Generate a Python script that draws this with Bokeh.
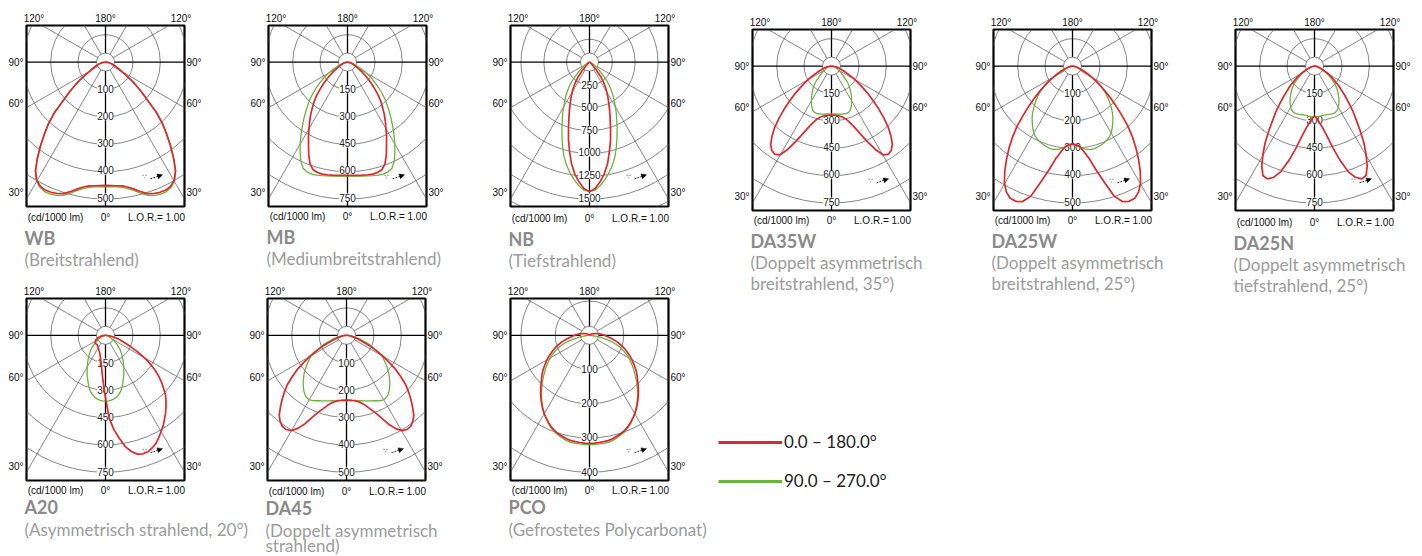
import math
from bokeh.plotting import figure
from bokeh.models import Range1d, LinearAxis, FixedTicker, Arrow, NormalHead
from bokeh.layouts import row, column
from bokeh.embed import file_html
from bokeh.resources import INLINE
from bokeh.core.properties import value

RED = "#e2262c"
GREEN = "#6ab43e"
GRID = "#555555"
NUM_FONT = "Liberation Sans"
TITLE_FONT = "Lato"

# ---------------- data (cd/1000 lm), angle from nadir in degrees ----------------
ANG = [i * 2.5 for i in range(37)]          # 0 .. 90

WB_C0 = [455, 456, 458, 461, 468, 480, 495, 509, 516, 520, 521, 516, 502, 475, 433, 390, 347, 308,
         263, 208, 172, 140, 112, 85, 66, 55, 46, 38, 31, 26, 21, 16, 12, 8, 5, 2, 0]
WB_C90 = [460, 461, 462, 466, 474, 486, 502, 516, 523, 527, 527, 520, 505, 477, 435, 391, 348, 308,
          263, 208, 172, 140, 112, 85, 66, 55, 46, 38, 31, 26, 21, 16, 12, 8, 5, 2, 0]
WB_RINGS = [100, 200, 300, 400, 500]

MB_C0 = [627, 628, 629, 631, 633, 635, 633, 625, 600, 555, 505, 463, 420, 385, 350, 315, 283, 250,
         212, 180, 150, 124, 100, 80, 63, 52, 42, 35, 28, 22, 18, 13, 10, 7, 4, 2, 0]
MB_C90 = [630, 631, 633, 636, 640, 644, 648, 650, 647, 636, 605, 562, 518, 473, 430, 391, 355, 320,
          290, 257, 225, 195, 166, 140, 115, 90, 70, 56, 45, 36, 28, 21, 15, 10, 6, 3, 0]
MB_RINGS = [150, 300, 450, 600, 750]

NB_C0 = [1434, 1400, 1330, 1245, 1140, 1010, 890, 765, 660, 575, 500, 435, 375, 320, 260, 200, 125,
         62, 38, 26, 18, 13, 9, 6, 4, 3, 2, 1, 0, 0, 0, 0, 0, 0, 0, 0, 0]
NB_C90 = [1434, 1418, 1370, 1310, 1240, 1165, 1080, 980, 880, 790, 705, 635, 565, 505, 448, 390, 335,
          280, 215, 165, 130, 102, 80, 60, 45, 34, 25, 18, 12, 8, 6, 4, 3, 2, 1, 0, 0]
NB_RINGS = [250, 500, 750, 1000, 1250, 1500]

DA35W_C0 = [271, 271, 273, 276, 282, 290, 303, 325, 355, 400, 458, 520, 568, 578, 570, 547, 507, 460,
            405, 350, 298, 255, 210, 175, 145, 115, 92, 75, 62, 50, 42, 33, 25, 17, 10, 4, 0]
DA35W_C90 = [265, 265, 266, 268, 270, 272, 273, 274, 273, 266, 253, 237, 220, 203, 187, 170, 155, 138,
             120, 98, 85, 72, 62, 53, 45, 39, 34, 29, 24, 20, 16, 12, 9, 6, 4, 2, 0]
DA35W_RINGS = [150, 300, 450, 600, 750]

DA25W_C0 = [288, 290, 298, 318, 345, 390, 440, 502, 532, 540, 538, 523, 497, 460, 420, 380, 340, 297,
            252, 212, 178, 148, 122, 100, 80, 63, 50, 38, 29, 23, 18, 14, 10, 7, 4, 2, 0]
DA25W_C90 = [288, 294, 300, 307, 312, 315, 315, 312, 309, 305, 300, 293, 283, 270, 256, 242, 227, 210,
             193, 177, 160, 140, 120, 98, 78, 55, 35, 26, 20, 16, 12, 9, 6, 4, 2, 1, 0]
DA25W_RINGS = [100, 200, 300, 400, 500]

DA25N_C0 = [276, 290, 315, 345, 392, 462, 540, 612, 655, 676, 668, 625, 565, 503, 435, 375, 328, 280,
            240, 205, 178, 150, 125, 108, 90, 72, 56, 45, 35, 28, 22, 16, 12, 8, 5, 2, 0]
DA25N_C90 = [280, 280, 279, 278, 277, 277, 278, 280, 282, 282, 279, 272, 262, 248, 233, 218, 202, 187,
             172, 155, 138, 120, 103, 87, 72, 57, 45, 36, 28, 22, 16, 12, 9, 6, 3, 1, 0]
DA25N_RINGS = [150, 300, 450, 600, 750]

A20_ANG = [-90 + i * 2.5 for i in range(73)]   # -90 .. 90 (asymmetric)
A20_C0 = [0, 4, 8, 14, 20, 28, 35, 42, 48, 53, 58, 61, 64, 66, 68, 69, 70, 70, 70, 69, 70, 72, 74, 77,
          80, 84, 88, 92, 97, 104, 114, 128, 145, 170, 210, 265,
          344,
          455, 520, 570, 622, 655, 677, 684, 681, 670, 655, 633, 610, 588, 563, 540, 515, 490, 465, 430,
          400, 365, 328, 288, 245, 200, 160, 128, 100, 82, 65, 48, 32, 22, 12, 5, 0]
A20_C90 = [362, 361, 358, 353, 345, 334, 320, 300, 278, 257, 238, 217, 200, 183, 167, 152, 139, 126,
           113, 100, 88, 77, 66, 54, 42, 35, 28, 23, 18, 14, 10, 7, 5, 3, 2, 1, 0]
A20_RINGS = [150, 300, 450, 600, 750]

DA45_C0 = [238, 238, 240, 242, 247, 255, 266, 282, 300, 325, 358, 385, 404, 410, 408, 398, 382, 357,
           332, 307, 282, 250, 220, 185, 154, 122, 98, 73, 55, 42, 30, 22, 15, 9, 5, 2, 0]
DA45_C90 = [240, 240, 241, 242, 244, 246, 249, 252, 256, 260, 265, 270, 273, 271, 265, 256, 245, 234,
            222, 210, 197, 185, 172, 160, 148, 128, 108, 92, 75, 60, 48, 37, 28, 20, 12, 5, 0]
DA45_RINGS = [100, 200, 300, 400, 500]

PCO_ANG = ANG + [95, 100, 105, 110, 120, 135, 150, 180]
PCO_C0 = [317, 317, 316, 315, 314, 311, 307, 303, 298, 291, 283, 274, 265, 255, 244, 233, 222, 211,
          200, 190, 181, 172, 162, 152, 143, 134, 124, 115, 106, 97, 88, 79, 70, 62, 55, 48, 43,
          35, 27, 19, 14, 8, 3, 1, 0]
PCO_C90 = [321, 321, 320, 320, 319, 316, 311, 306, 301, 294, 285, 275, 264, 253, 242, 230, 218, 206,
           195, 183, 172, 162, 152, 142, 133, 122, 111, 100, 88, 75, 60, 44, 28, 16, 8, 3, 0]
PCO_RINGS = [100, 200, 300, 400]

NAMES = ["WB", "MB", "NB", "DA35W", "DA25W", "DA25N", "A20", "DA45", "PCO"]
SUBTITLES = [["(Breitstrahlend)"], ["(Mediumbreitstrahlend)"], ["(Tiefstrahlend)"],
             ["(Doppelt asymmetrisch", "breitstrahlend, 35°)"],
             ["(Doppelt asymmetrisch", "breitstrahlend, 25°)"],
             ["(Doppelt asymmetrisch", "tiefstrahlend, 25°)"],
             ["(Asymmetrisch strahlend, 20°)"],
             ["(Doppelt asymmetrisch", "strahlend)"],
             ["(Gefrostetes Polycarbonat)"]]
TOP_LABELS = ["120°", "180°", "120°"]
SIDE_LABELS = ["90°", "60°", "30°"]
BOTTOM_LABELS = ["(cd/1000 lm)", "0°", "L.O.R.= 1.00"]
LEGEND_LABELS = ["0.0 – 180.0°", "90.0 – 270.0°"]

# ---------------- layout constants (page pixels) ----------------
RING_PX = 137.0          # radius of outermost labelled ring
FW, FH = 158, 183        # frame size
HALF_W, ABOVE = 79, 37   # centre position in frame
BELOW = FH - ABOVE
TOP_TICKS_PX = [-71.5, 0, 75.5]
SIDE_TICKS_PX = [0, -42, -132]
BOTTOM_TICKS_PX = [-50, 0, 51]
BOTTOM_LABEL_DY = 10
# (canvas_x, canvas_y, canvas_w, canvas_h, frame_left, frame_top)
GEOM = [(0, 0, 242, 210, 26, 24), (242, 0, 242, 210, 268, 23), (484, 0, 234, 210, 510, 25),
        (718, 0, 254, 214, 752, 27), (972, 0, 242, 214, 993, 27), (1214, 0, 208, 214, 1235, 29),
        (0, 276, 242, 207, 26, 297), (242, 276, 242, 207, 267, 298), (484, 276, 234, 207, 510, 297)]
ROW1_OFFS = [30, 52, 73]
ROW2_OFFS = [26, 49, 64]


def mirror(angles, vals):
    a = [-t for t in reversed(angles)] + list(angles[1:])
    v = list(reversed(vals)) + list(vals[1:])
    return a, v


def polar_xy(angles, vals):
    xs = [v * math.sin(math.radians(a)) for a, v in zip(angles, vals)]
    ys = [-v * math.cos(math.radians(a)) for a, v in zip(angles, vals)]
    return xs, ys


def text_axis(p, side, ticks, labels, standoff):
    ax = LinearAxis(ticker=FixedTicker(ticks=ticks),
                    major_label_overrides={t: l for t, l in zip(ticks, labels)})
    ax.axis_line_color = None
    ax.major_tick_line_color = None
    ax.minor_tick_line_color = None
    ax.major_tick_in = 0
    ax.major_tick_out = 0
    ax.major_label_standoff = standoff
    ax.major_label_text_font = NUM_FONT
    ax.major_label_text_font_size = "10px"
    ax.major_label_text_color = "#111111"
    p.add_layout(ax, side)


def panel(c0, c90, rings, geom):
    cxp, cyp, w, h, fl, ft = geom
    left, top = fl - cxp, ft - cyp
    k = rings[-1] / RING_PX
    step = rings[0]
    p = figure(width=w, height=h,
               x_range=Range1d(-HALF_W * k, HALF_W * k), y_range=Range1d(-BELOW * k, ABOVE * k),
               x_axis_type=None, y_axis_type=None, toolbar_location=None, output_backend="svg",
               min_border_left=left, min_border_right=w - left - FW,
               min_border_top=top, min_border_bottom=h - top - FH)
    p.outline_line_color = "black"
    p.outline_line_width = 2.2
    p.background_fill_color = "white"
    p.border_fill_color = "white"

    n_draw = int(math.ceil(170 / (RING_PX / len(rings)))) + 1
    radii = [step * i for i in range(1, n_draw + 1)]
    p.circle(x=[0] * len(radii), y=[0] * len(radii), radius=radii,
             fill_color=None, line_color=GRID, line_width=0.7)
    L = 400 * k
    gray_ang = [30, 60, 120, 150, -30, -60, -120, -150]
    p.ray(x=[0] * len(gray_ang), y=[0] * len(gray_ang), length=L, angle=gray_ang, angle_units="deg",
          line_color=GRID, line_width=0.7)
    p.ray(x=[0] * 4, y=[0] * 4, length=L, angle=[0, 90, 180, 270], angle_units="deg",
          line_color="black", line_width=1.3)
    p.circle(x=[0], y=[0], radius=9 * k, fill_color="white", line_color=GRID, line_width=0.7)

    p.text(x=[0] * len(rings), y=[-r for r in rings], text=[str(r) for r in rings],
           text_align="center", text_baseline="middle", text_font=value(NUM_FONT),
           text_font_size="10px", text_color="#222222", background_fill_color="white")

    # little symbol (dots + dashed arrow)
    p.text(x=[39 * k], y=[-116 * k], text=["∵"], text_align="center", text_baseline="middle",
           text_font=value("DejaVu Sans"), text_font_size="7px", text_color="black")
    p.add_layout(Arrow(end=NormalHead(size=5, fill_color="black", line_color="black", line_width=0.5),
                       x_start=45 * k, y_start=-118 * k, x_end=57 * k, y_end=-114 * k,
                       line_dash="2 1", line_width=0.8, line_color="black"))

    gx, gy = polar_xy(*c90)
    p.line(gx, gy, line_color=GREEN, line_width=1.3)
    rx, ry = polar_xy(*c0)
    p.line(rx, ry, line_color=RED, line_width=1.7)

    text_axis(p, "above", [t * k for t in TOP_TICKS_PX], TOP_LABELS, 2)
    text_axis(p, "left", [t * k for t in SIDE_TICKS_PX], SIDE_LABELS, 3)
    text_axis(p, "right", [t * k for t in SIDE_TICKS_PX], SIDE_LABELS, 2)
    return p


def text_strip(x0, y0, w, h, idxs, offs):
    """Texts below a row of panels; data units are page pixels (y negated)."""
    t = figure(width=w, height=h, x_range=Range1d(x0, x0 + w), y_range=Range1d(-(y0 + h), -y0),
               x_axis_type=None, y_axis_type=None, toolbar_location=None, output_backend="svg",
               min_border=0, outline_line_color=None)
    for i in idxs:
        _, _, _, _, fl, ft = GEOM[i]
        fb = ft + FH
        cx = fl + HALF_W
        t.text(x=[cx + d for d in BOTTOM_TICKS_PX], y=[-(fb + BOTTOM_LABEL_DY)] * 3,
               text=BOTTOM_LABELS, text_align="center", text_baseline="middle",
               text_font=value(NUM_FONT), text_font_size="10px", text_color="#111111")
        t.text(x=[fl - 2], y=[-(fb + offs[0])], text=[NAMES[i]], text_baseline="middle",
               text_font=value(TITLE_FONT), text_font_style="bold", text_font_size="18px",
               text_color="#8a8a8a")
        subs = SUBTITLES[i]
        t.text(x=[fl - 2] * len(subs), y=[-(fb + offs[j + 1]) for j in range(len(subs))],
               text=subs, text_baseline="middle", text_font=value(TITLE_FONT),
               text_font_size="17px", text_color="#9c9c9c")
    return t


SERIES = [
    (mirror(ANG, WB_C0), mirror(ANG, WB_C90), WB_RINGS),
    (mirror(ANG, MB_C0), mirror(ANG, MB_C90), MB_RINGS),
    (mirror(ANG, NB_C0), mirror(ANG, NB_C90), NB_RINGS),
    (mirror(ANG, DA35W_C0), mirror(ANG, DA35W_C90), DA35W_RINGS),
    (mirror(ANG, DA25W_C0), mirror(ANG, DA25W_C90), DA25W_RINGS),
    (mirror(ANG, DA25N_C0), mirror(ANG, DA25N_C90), DA25N_RINGS),
    ((A20_ANG, A20_C0), mirror(ANG, A20_C90), A20_RINGS),
    (mirror(ANG, DA45_C0), mirror(ANG, DA45_C90), DA45_RINGS),
    (mirror(PCO_ANG, PCO_C0), mirror(ANG, PCO_C90), PCO_RINGS),
]
P = [panel(c0, c90, rings, GEOM[i]) for i, (c0, c90, rings) in enumerate(SERIES)]

strip1 = text_strip(0, 210, 718, 66, [0, 1, 2], ROW1_OFFS)
strip_r = text_strip(718, 214, 704, 86, [3, 4, 5], ROW1_OFFS)
strip2 = text_strip(0, 483, 718, 73, [6, 7, 8], ROW2_OFFS)

LEG_H = 256
leg = figure(width=704, height=LEG_H, x_range=Range1d(0, 1), y_range=Range1d(0, 1),
             x_axis_type=None, y_axis_type=None, toolbar_location=None, output_backend="svg",
             min_border=0, outline_line_color=None)
leg.line(x=[-5, -4], y=[-5, -4], line_color=RED, line_width=3, legend_label=LEGEND_LABELS[0])
leg.line(x=[-5, -4], y=[-5, -4], line_color=GREEN, line_width=3, legend_label=LEGEND_LABELS[1])
lg = leg.legend[0]
lg.location = (0, LEG_H - 191)
lg.glyph_width = 64
lg.glyph_height = 20
lg.label_height = 20
lg.spacing = 18
lg.padding = 0
lg.margin = 0
lg.label_standoff = 2
lg.border_line_color = None
lg.background_fill_alpha = 0
lg.label_text_font = TITLE_FONT
lg.label_text_font_size = "17px"
lg.label_text_color = "#222222"

left_block = column(row(P[0], P[1], P[2]), strip1, row(P[6], P[7], P[8]), strip2)
right_block = column(row(P[3], P[4], P[5]), strip_r, leg)
layout = row(left_block, right_block)

open("out.html", "w").write(file_html(layout, INLINE))
